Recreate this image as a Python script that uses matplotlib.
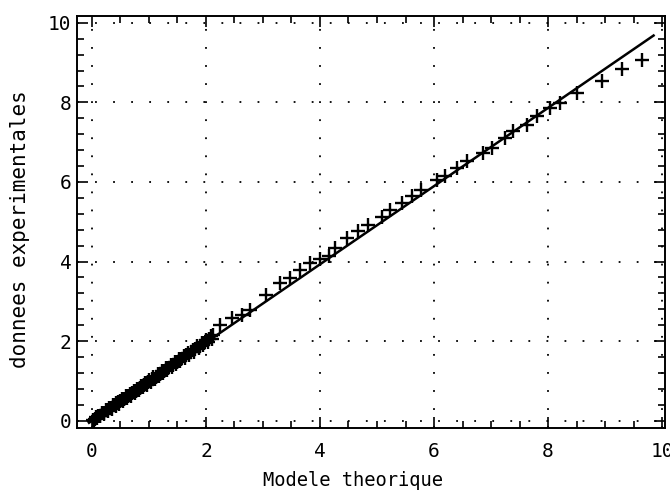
"""
Modele theorique vs donnees experimentales
"""

import matplotlib
matplotlib.use('Agg')
import matplotlib.pyplot as plt
from matplotlib.ticker import MultipleLocator

# Experimental points (dense part, 0 - 2.2)
dense_x = [0.02, 0.05, 0.08, 0.11, 0.14, 0.17, 0.21, 0.24, 0.27, 0.30,
           0.33, 0.37, 0.40, 0.43, 0.46, 0.50, 0.53, 0.56, 0.60, 0.63,
           0.66, 0.70, 0.73, 0.77, 0.80, 0.84, 0.87, 0.91, 0.94, 0.98,
           1.01, 1.05, 1.08, 1.12, 1.16, 1.19, 1.23, 1.27, 1.30, 1.34,
           1.38, 1.42, 1.45, 1.49, 1.53, 1.57, 1.61, 1.65, 1.69, 1.73,
           1.77, 1.81, 1.85, 1.89, 1.93, 1.97, 2.01, 2.05, 2.09, 2.13,
           0.04, 0.09, 0.15, 0.22, 0.28, 0.35, 0.42, 0.48, 0.55, 0.62,
           0.68, 0.75, 0.82, 0.89, 0.96, 1.03, 1.10, 1.17, 1.25, 1.32,
           1.40, 1.47, 1.55, 1.63, 1.71, 1.79, 1.87, 1.95, 2.03, 2.11]
dense_y = [0.03, 0.04, 0.10, 0.12, 0.13, 0.19, 0.20, 0.26, 0.26, 0.32,
           0.33, 0.39, 0.39, 0.45, 0.46, 0.50, 0.55, 0.55, 0.61, 0.62,
           0.68, 0.69, 0.75, 0.76, 0.81, 0.83, 0.88, 0.90, 0.95, 0.97,
           1.03, 1.04, 1.10, 1.11, 1.17, 1.18, 1.25, 1.26, 1.32, 1.33,
           1.40, 1.41, 1.47, 1.48, 1.55, 1.56, 1.63, 1.64, 1.71, 1.72,
           1.79, 1.80, 1.87, 1.88, 1.95, 1.96, 2.04, 2.05, 2.12, 2.15,
           0.00, 0.07, 0.11, 0.18, 0.24, 0.30, 0.37, 0.43, 0.50, 0.57,
           0.63, 0.70, 0.77, 0.84, 0.91, 0.98, 1.05, 1.12, 1.20, 1.27,
           1.35, 1.42, 1.50, 1.58, 1.66, 1.74, 1.82, 1.90, 1.98, 2.06]

# Experimental points (sparse part)
sparse_x = [2.25, 2.45, 2.63, 2.77, 3.06, 3.30, 3.47, 3.65, 3.82, 4.00,
            4.15, 4.26, 4.47, 4.67, 4.85, 5.08, 5.23, 5.43, 5.61, 5.78,
            6.05, 6.19, 6.40, 6.57, 6.86, 7.01, 7.25, 7.39, 7.63, 7.80,
            8.04, 8.21, 8.50, 8.94, 9.29, 9.64]
sparse_y = [2.41, 2.58, 2.66, 2.79, 3.17, 3.46, 3.59, 3.79, 3.96, 4.06,
            4.13, 4.34, 4.59, 4.76, 4.92, 5.13, 5.30, 5.47, 5.64, 5.80,
            6.06, 6.14, 6.35, 6.52, 6.73, 6.85, 7.10, 7.27, 7.44, 7.65,
            7.86, 7.98, 8.23, 8.53, 8.84, 9.07]

# Model line end points
line_x = [-0.05, 9.85]
line_y = [-0.05, 9.68]

font = 'DejaVu Sans Mono'

fig = plt.figure(figsize=(6.70, 4.93), dpi=100)
ax = fig.add_axes([0.115, 0.132, 0.8775, 0.8355])

ax.plot(line_x, line_y, color='black', linewidth=1.8)
ax.plot(dense_x + sparse_x, dense_y + sparse_y, linestyle='none', marker='+',
        markersize=10, markeredgewidth=1.7, color='black')

ax.set_xlim(-0.26, 10.05)
ax.set_ylim(-0.18, 10.17)

ax.xaxis.set_major_locator(MultipleLocator(2))
ax.xaxis.set_minor_locator(MultipleLocator(0.5))
ax.yaxis.set_major_locator(MultipleLocator(2))
ax.yaxis.set_minor_locator(MultipleLocator(0.4))

ax.tick_params(which='both', direction='in', top=True, right=True,
               color='black', width=1.2)
ax.tick_params(which='major', length=8, labelsize=14)
ax.tick_params(which='minor', length=5)
ax.tick_params(axis='x', which='major', pad=10)
ax.tick_params(axis='y', which='major', pad=4)
for lbl in ax.get_xticklabels() + ax.get_yticklabels():
    lbl.set_family(font)

ax.grid(True, which='major', color='black', linestyle=(0, (1, 9)), linewidth=1.3)

for sp in ax.spines.values():
    sp.set_linewidth(1.4)

ax.set_xlabel('Modele theorique', fontsize=13.5, family=font)
ax.xaxis.set_label_coords(0.47, -0.105)
ax.set_ylabel('donnees experimentales', fontsize=15, family=font)
ax.yaxis.set_label_coords(-0.08, 0.483)

plt.savefig('out.png', dpi=100)
